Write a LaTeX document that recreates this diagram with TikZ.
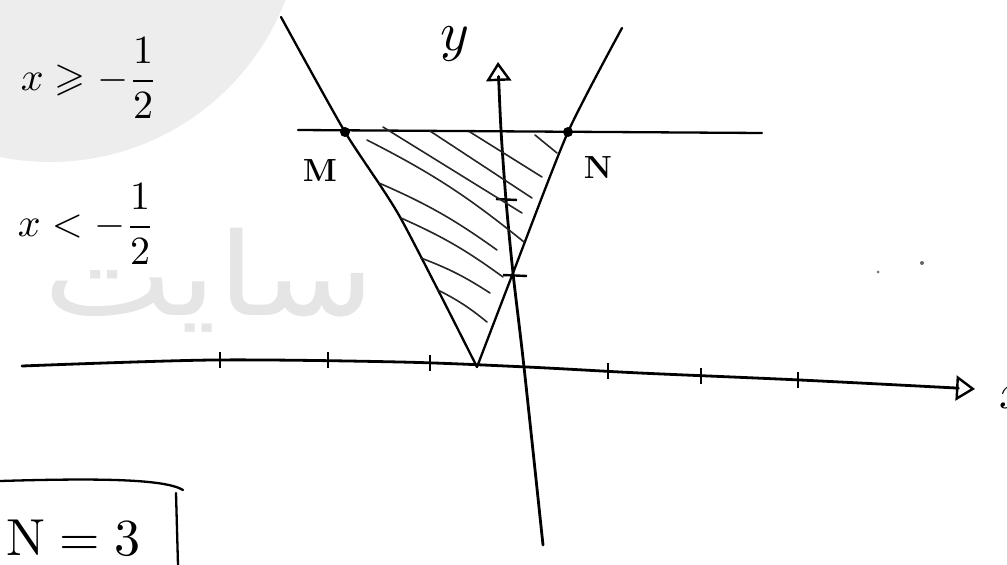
\documentclass[tikz,border=0pt]{standalone}
\usepackage{amsmath,amssymb}
\usepackage{graphicx}
\usepackage{fontspec}
\newfontfamily\arabicfont[Script=Arabic]{DejaVu Sans}
\TeXXeTstate=1
\usetikzlibrary{arrows.meta}
\begin{document}
\begin{tikzpicture}[x=1pt,y=-1pt,
  axisline/.style={line width=2.8pt, line cap=round, line join=round},
  curveline/.style={line width=2.3pt, line cap=round, line join=round},
  hatchline/.style={line width=1.6pt, line cap=round, black!85},
  tickmark/.style={line width=2.4pt},
  dotpt/.style={circle, fill=black, inner sep=0pt, minimum size=10pt},
  lab/.style={inner sep=0pt, font=\fontsize{32}{34}\selectfont\bfseries},
  plainlab/.style={inner sep=0pt},
  openhead/.style={-{Triangle[open, length=19pt, width=25pt, line width=2.4pt]}}
]
\useasboundingbox (0,0) rectangle (1007,565);
% watermark
\fill[black!7] (50,-90) circle [radius=252pt];
\node[anchor=base west, text=black!10, inner sep=0pt] (wm) at (43,315) {\scalebox{1.2}[1.0]{\arabicfont\fontsize{115}{120}\selectfont\beginR سایت\endR}};
% specks
\fill[black!55] (878,272) circle [radius=1.5pt];
\fill[black!60] (922,263) circle [radius=2pt];
% x axis
\draw[axisline, openhead] plot[smooth] coordinates {(22,366) (213,360) (400,362) (527,367) (640,373) (800,380) (975,389)};
\node[plainlab] (xlab) at (1014,398) {\scalebox{5}{$x$}};
% x ticks
\foreach \tx/\ty in {220/360, 328/360, 430/363, 608/371, 701/376, 798/380}
  \draw[tickmark] (\tx,\ty-8) -- (\tx,\ty+8);
% y axis
\draw[axisline, openhead] plot[smooth] coordinates {(543,545) (524,367) (513,273) (506,200) (501,130) (498,62)};
\node[plainlab] (ylab) at (455,44) {\scalebox{5.5}{$y$}};
\draw[tickmark] (496,199) -- (517,200);
\draw[tickmark] (503,275) -- (527,276);
% horizontal line
\draw[curveline] (298,130) -- (762,133);
% V lines
\draw[curveline] plot[smooth, tension=0.4] coordinates {(281,17) (345,132) (400,217) (477,367)};
\draw[curveline] plot[smooth, tension=0.4] coordinates {(477,367) (513,273) (568,132) (622,28)};
% hatching
\draw[hatchline] (367,140) to[bend left=6] (524,242);
\draw[hatchline] (383,127) -- (522,213);
\draw[hatchline] (430,131) -- (532,198);
\draw[hatchline] (470,132) -- (542,177);
\draw[hatchline] (535,135) -- (557,153);
\draw[hatchline] (379,183) to[bend left=6] (497,250);
\draw[hatchline] (401,218) to[bend left=6] (503,277);
\draw[hatchline] (421,258) to[bend left=6] (490,293);
\draw[hatchline] (438,290) to[bend left=6] (487,322);
% points
\node[dotpt] (M) at (345,132) {};
\node[dotpt] (N) at (568,132) {};
\node[lab] (Mlab) at (320,171) {M};
\node[lab] (Nlab) at (598,168) {N};
% inequalities
\node[plainlab, anchor=east] (ineqa) at (158,78) {\scalebox{4}{$x \geqslant -\dfrac{1}{2}$}};
\node[plainlab, anchor=east] (ineqb) at (155,224) {\scalebox{4}{$x < -\dfrac{1}{2}$}};
% boxed result
\draw[curveline] (0,481) .. controls (100,478) and (165,479) .. (183,490);
\draw[curveline] (176,493) -- (178,565);
\node[plainlab, anchor=west] (res) at (6,538) {\scalebox{5.2}{$\mathrm{N} = 3$}};
\end{tikzpicture}
\end{document}
